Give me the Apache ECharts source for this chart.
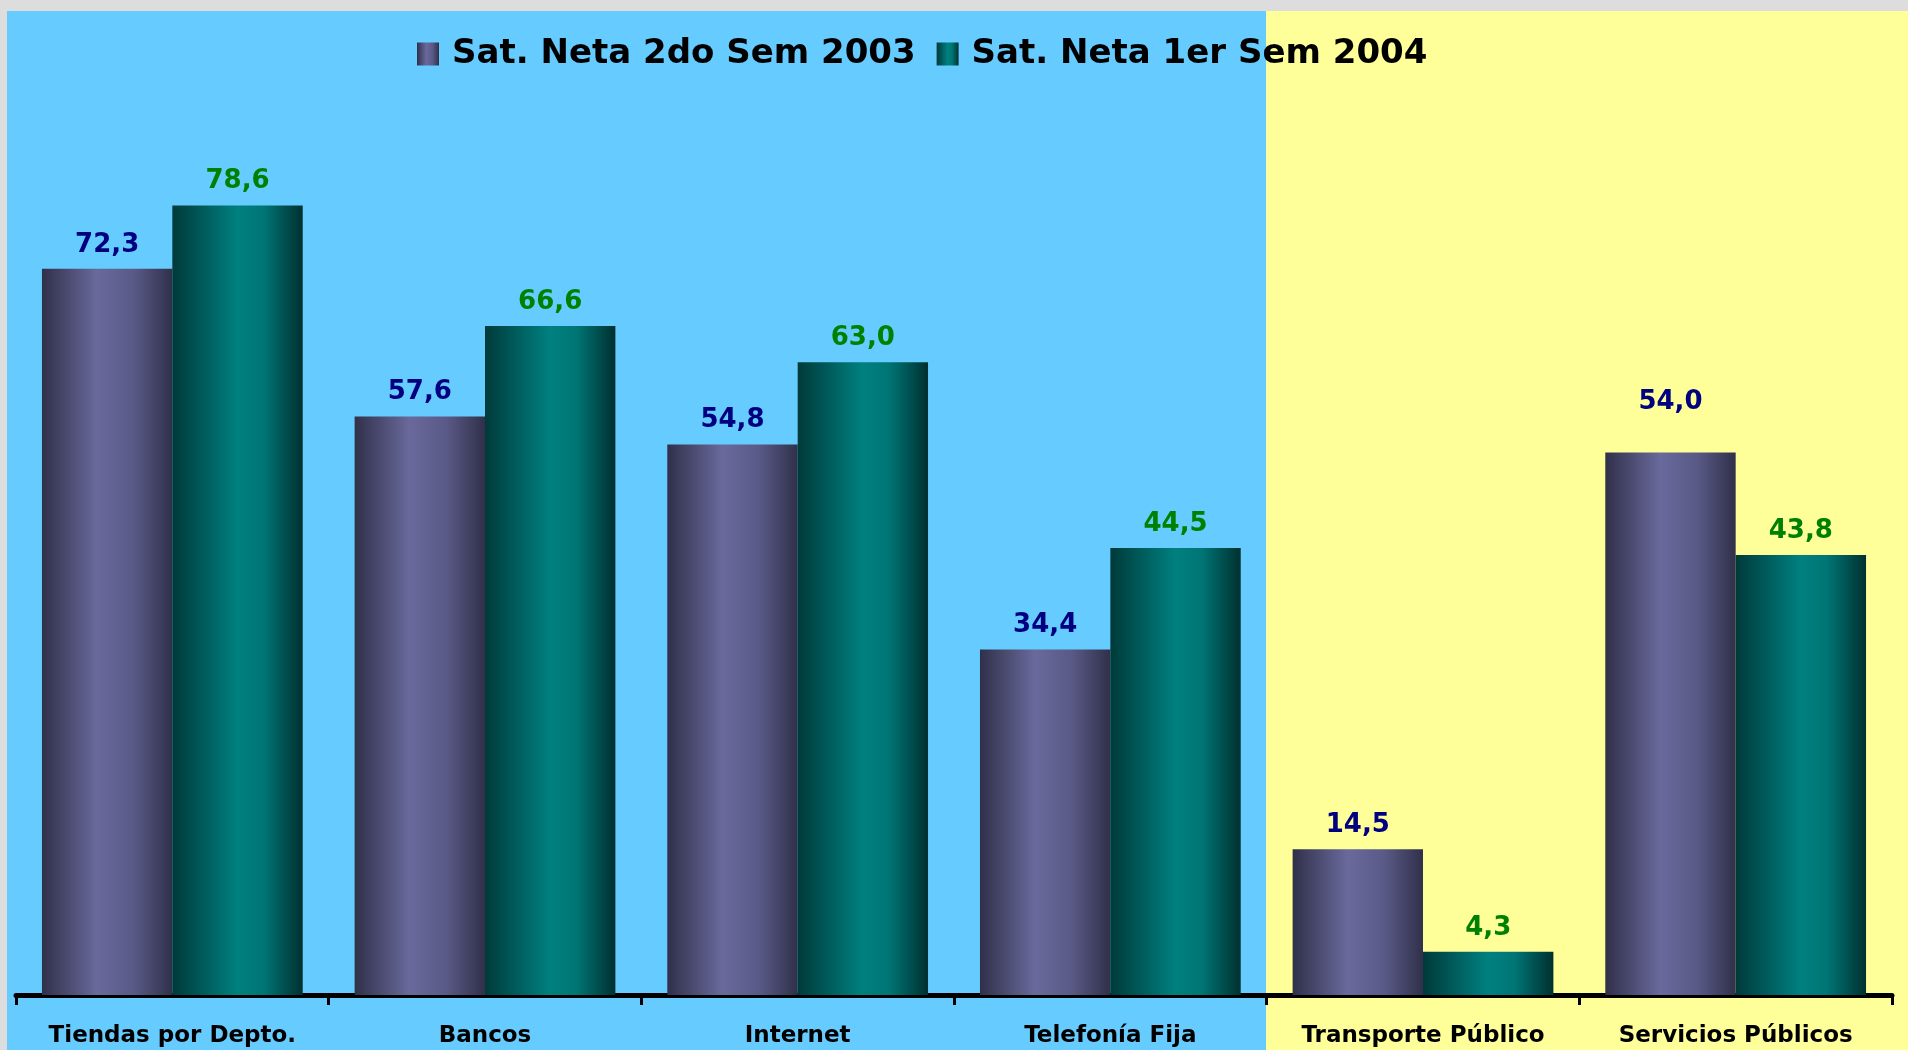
<!DOCTYPE html>
<html>
<head>
<meta charset="utf-8">
<script src="https://cdn.jsdelivr.net/npm/echarts@6/dist/echarts.min.js"></script>
<style>
  html, body { margin: 0; padding: 0; background: #dddddd; }
  #chart_one { width: 1908px; height: 1050px; }
</style>
</head>
<body>
<div id="chart_one"></div>
<script>
var categories = ['Tiendas por Depto.', 'Bancos', 'Internet', 'Telefonía Fija', 'Transporte Público', 'Servicios Públicos'];
var sem2003 = [72.3, 57.6, 54.8, 34.4, 14.5, 54.0];
var sem2004 = [78.6, 66.6, 63.0, 44.5, 4.3, 43.8];
var seriesNames = ['Sat. Neta 2do Sem 2003', 'Sat. Neta 1er Sem 2004'];

var theDom = document.getElementById('chart_one');
var myChart = echarts.init(theDom);
var W = 1908, H = 1050;

function fmt(p) {
    return p.value.toFixed(1).replace('.', ',');
}

var purple = new echarts.graphic.LinearGradient(0, 0, 1, 0, [
    {offset: 0, color: '#30304a'},
    {offset: 0.42, color: '#69699c'},
    {offset: 0.7, color: '#5a5a88'},
    {offset: 1, color: '#30304a'}
]);
var teal = new echarts.graphic.LinearGradient(0, 0, 1, 0, [
    {offset: 0, color: '#003a3a'},
    {offset: 0.5, color: '#008080'},
    {offset: 0.7, color: '#007575'},
    {offset: 1, color: '#003030'}
]);

var option = {
    animation: false,
    backgroundColor: '#dddddd',
    graphic: [
        {type: 'rect', z: -10, shape: {x: 7, y: 11, width: 1259, height: H - 11}, style: {fill: '#66ccff'}},
        {type: 'rect', z: -10, shape: {x: 1266, y: 11, width: W - 1266, height: H - 11}, style: {fill: '#ffff99'}}
    ],
    legend: {
        left: 417,
        top: 37,
        padding: 0,
        icon: 'rect',
        itemWidth: 22,
        itemHeight: 23,
        itemGap: 21,
        textStyle: {
            fontFamily: 'DejaVu Sans',
            fontWeight: 'bold',
            fontSize: 34,
            color: '#000',
            padding: [0, 0, 0, 8]
        },
        data: seriesNames
    },
    grid: {
        left: 16,
        right: 16,
        top: 91,
        bottom: 55
    },
    xAxis: {
        type: 'category',
        data: categories,
        axisLine: {lineStyle: {color: '#000', width: 5}},
        axisTick: {show: true, length: 10, lineStyle: {color: '#000', width: 3}},
        axisLabel: {
            margin: 30,
            interval: 0,
            fontFamily: 'DejaVu Sans',
            fontWeight: 'bold',
            fontSize: 23,
            color: '#000'
        }
    },
    yAxis: {
        type: 'value',
        min: 0,
        max: 90,
        show: false,
        splitLine: {show: false}
    },
    series: [
        {
            name: seriesNames[0],
            type: 'bar',
            barGap: '0%',
            barCategoryGap: '16.6%',
            itemStyle: {color: purple},
            label: {
                show: true,
                position: 'top',
                distance: 11,
                formatter: fmt,
                fontFamily: 'DejaVu Sans',
                fontWeight: 'bold',
                fontSize: 26,
                color: '#000080'
            },
            data: sem2003.map(function (v, i) {
                return i === 5 ? {value: v, label: {distance: 37}} : v;
            })
        },
        {
            name: seriesNames[1],
            type: 'bar',
            barGap: '0%',
            barCategoryGap: '16.6%',
            itemStyle: {color: teal},
            label: {
                show: true,
                position: 'top',
                distance: 11,
                formatter: fmt,
                fontFamily: 'DejaVu Sans',
                fontWeight: 'bold',
                fontSize: 26,
                color: '#008000'
            },
            data: sem2004
        }
    ]
};

myChart.setOption(option);
</script>
</body>
</html>
